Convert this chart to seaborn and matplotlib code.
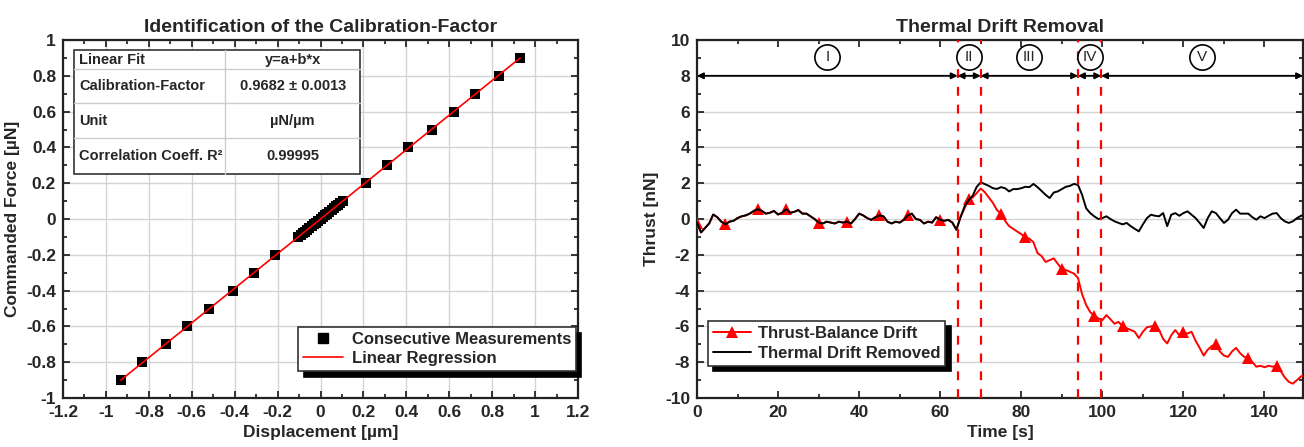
import numpy as np
import matplotlib
matplotlib.use('Agg')
import matplotlib.pyplot as plt
import seaborn as sns
from matplotlib.lines import Line2D
from matplotlib.patches import Rectangle
from matplotlib.ticker import MultipleLocator, FuncFormatter

# Calibration data (left)
displacement = [-0.93, -0.83, -0.72, -0.62, -0.52, -0.41, -0.31, -0.21,
                -0.103, -0.093, -0.083, -0.072, -0.062, -0.052, -0.041, -0.031, -0.021, -0.010,
                0.0, 0.010, 0.021, 0.031, 0.041, 0.052, 0.062, 0.072, 0.083, 0.093, 0.103,
                0.21, 0.31, 0.41, 0.52, 0.62, 0.72, 0.83, 0.93]
force = [-0.9, -0.8, -0.7, -0.6, -0.5, -0.4, -0.3, -0.2,
         -0.1, -0.09, -0.08, -0.07, -0.06, -0.05, -0.04, -0.03, -0.02, -0.01,
         0.0, 0.01, 0.02, 0.03, 0.04, 0.05, 0.06, 0.07, 0.08, 0.09, 0.1,
         0.2, 0.3, 0.4, 0.5, 0.6, 0.7, 0.8, 0.9]

table_rows = [("Linear Fit", "y=a+b*x"),
              ("Calibration-Factor", "0.9682 \u00b1 0.0013"),
              ("Unit", "\u00b5N/\u00b5m"),
              ("Correlation Coeff. R\u00b2", "0.99995")]

# Thrust data (right), sampled every second
time_s = list(range(0, 151))
drift_removed = [
    -0.2, -0.75, -0.5, -0.25, 0.25, 0.1, -0.15, -0.3, -0.15, -0.1,
    0.05, 0.15, 0.2, 0.3, 0.45, 0.55, 0.45, 0.3, 0.35, 0.45,
    0.25, 0.35, 0.55, 0.35, 0.4, 0.5, 0.3, 0.3, 0.15, 0.0,
    -0.2, -0.25, -0.15, -0.2, -0.25, -0.15, -0.2, -0.15, -0.25, 0.0,
    0.3, 0.2, 0.05, -0.05, 0.1, 0.2, 0.15, -0.15, -0.25, -0.15,
    -0.2, -0.05, 0.2, 0.3, 0.0, -0.05, -0.25, -0.15, -0.2, 0.1,
    -0.05, -0.1, -0.05, -0.2, -0.6, 0.1, 0.7, 1.05, 1.3, 1.8,
    2.05, 1.95, 1.85, 1.72, 1.68, 1.78, 1.72, 1.54, 1.67, 1.67,
    1.72, 1.8, 1.78, 1.96, 1.78, 1.57, 1.35, 1.17, 1.48, 1.54,
    1.67, 1.8, 1.85, 1.96, 1.9, 1.35, 0.6, 0.33, 0.15, 0.0,
    0.05, 0.15, 0.0, -0.13, -0.22, -0.3, -0.22, -0.4, -0.55, -0.69,
    -0.3, 0.05, 0.24, 0.18, 0.15, 0.33, -0.4, 0.24, 0.33, 0.18,
    0.33, 0.43, 0.24, 0.05, -0.22, -0.5, 0.05, 0.43, 0.33, 0.05,
    -0.22, -0.04, 0.33, 0.52, 0.3, 0.3, 0.3, 0.1, -0.04, 0.15,
    0.05, 0.18, 0.3, 0.33, 0.05, -0.13, -0.22, -0.13, 0.05, 0.18,
    0.25]
balance_drift = [
    -0.2, -0.75, -0.5, -0.25, 0.25, 0.1, -0.15, -0.3, -0.15, -0.1,
    0.05, 0.15, 0.2, 0.3, 0.45, 0.55, 0.45, 0.3, 0.35, 0.45,
    0.25, 0.35, 0.55, 0.35, 0.4, 0.5, 0.3, 0.3, 0.15, 0.0,
    -0.2, -0.25, -0.15, -0.2, -0.25, -0.15, -0.2, -0.15, -0.25, 0.0,
    0.3, 0.2, 0.05, -0.05, 0.1, 0.2, 0.15, -0.15, -0.25, -0.15,
    -0.2, -0.05, 0.2, 0.3, 0.0, -0.05, -0.25, -0.15, -0.2, 0.1,
    -0.05, -0.1, -0.05, -0.2, -0.6, 0.1, 0.6, 1.1, 1.2, 1.45,
    1.7, 1.5, 1.2, 0.9, 0.5, 0.3, -0.1, -0.4, -0.55, -0.7,
    -0.85, -1.0, -1.1, -1.3, -1.9, -2.07, -2.4, -2.3, -2.2, -2.5,
    -2.8, -2.85, -2.95, -3.05, -3.3, -4.2, -4.8, -5.2, -5.4, -5.55,
    -5.65, -5.37, -5.6, -5.85, -5.75, -6.0, -6.1, -6.2, -6.3, -6.65,
    -6.3, -6.05, -6.0, -5.95, -6.2, -6.7, -6.95, -6.5, -6.2, -6.5,
    -6.33, -6.4, -6.3, -6.8, -7.2, -7.63, -7.3, -7.1, -7.0, -7.4,
    -7.63, -7.7, -7.4, -7.2, -7.5, -7.7, -7.75, -8.0, -8.25, -8.2,
    -8.28, -8.2, -8.25, -8.2, -8.5, -8.85, -9.1, -9.2, -9.0, -8.8,
    -8.7]

phase_bounds = [0, 64.3, 70.0, 94.0, 99.7, 149.5]
phase_labels = ["I", "II", "III", "IV", "V"]


def num_fmt(v, pos):
    return f"{round(v, 6) + 0.0:g}"


def style_axes(ax):
    for s in ax.spines.values():
        s.set_linewidth(1.6)
        s.set_color('#222222')
    ax.tick_params(which='both', direction='in', top=True, right=True,
                   width=1.3, labelsize=12.5, pad=5)
    ax.tick_params(which='major', length=5)
    ax.tick_params(which='minor', length=3)
    ax.xaxis.set_major_formatter(FuncFormatter(num_fmt))
    ax.yaxis.set_major_formatter(FuncFormatter(num_fmt))
    for lab in ax.get_xticklabels() + ax.get_yticklabels():
        lab.set_fontweight('bold')


def main():
    sns.set_style('ticks')
    plt.rcParams['font.family'] = ['Liberation Sans', 'DejaVu Sans']
    plt.rcParams['font.weight'] = 'bold'
    plt.rcParams['axes.labelweight'] = 'bold'
    plt.rcParams['axes.titleweight'] = 'bold'
    plt.rcParams['axes.unicode_minus'] = False

    fig = plt.figure(figsize=(13.04, 4.47), dpi=100)
    ax1 = fig.add_axes([63 / 1304, 49 / 447, 515 / 1304, 358 / 447])
    ax2 = fig.add_axes([697 / 1304, 49 / 447, 606 / 1304, 358 / 447])

    # 1. Calibration plot
    sns.scatterplot(x=displacement, y=force, marker='s', s=42, color='black',
                    edgecolor='black', linewidth=0, ax=ax1, zorder=3, legend=False)
    slope, intercept = np.polyfit(displacement, force, 1)
    fit_x = np.array([min(displacement), max(displacement)])
    sns.lineplot(x=fit_x, y=intercept + slope * fit_x, color='red', lw=1.2, ax=ax1, zorder=4)

    ax1.set_xlim(-1.2, 1.2)
    ax1.set_ylim(-1, 1)
    ax1.xaxis.set_major_locator(MultipleLocator(0.2))
    ax1.xaxis.set_minor_locator(MultipleLocator(0.1))
    ax1.yaxis.set_major_locator(MultipleLocator(0.2))
    ax1.yaxis.set_minor_locator(MultipleLocator(0.1))
    ax1.grid(True, which='major', color='#d4d4d4', lw=1)
    ax1.set_axisbelow(True)
    style_axes(ax1)
    ax1.set_title('Identification of the Calibration-Factor', fontsize=14, pad=6)
    ax1.set_xlabel('Displacement [\u00b5m]', fontsize=12.5, labelpad=4)
    ax1.set_ylabel('Commanded Force [\u00b5N]', fontsize=12.5, labelpad=4)

    # table in the upper left
    tx0, tdiv, tx1 = 0.021, 0.315, 0.577
    ty = [0.972, 0.919, 0.824, 0.726, 0.626]
    ax1.add_patch(Rectangle((tx0, ty[-1]), tx1 - tx0, ty[0] - ty[-1], transform=ax1.transAxes,
                            fc='white', ec='#333333', lw=1.2, zorder=5))
    for y in ty[1:-1]:
        ax1.add_line(Line2D([tx0, tx1], [y, y], transform=ax1.transAxes,
                            color='#cccccc', lw=1, zorder=6))
    ax1.add_line(Line2D([tdiv, tdiv], [ty[-1], ty[0]], transform=ax1.transAxes,
                        color='#cccccc', lw=1, zorder=6))
    for i, (left, right) in enumerate(table_rows):
        yc = (ty[i] + ty[i + 1]) / 2
        ax1.text(tx0 + 0.01, yc, left, transform=ax1.transAxes, ha='left', va='center',
                 fontsize=10.5, fontweight='bold', zorder=7)
        ax1.text((tdiv + tx1) / 2, yc, right, transform=ax1.transAxes, ha='center',
                 va='center', fontsize=10.5, fontweight='bold', zorder=7)

    h1 = [Line2D([], [], ls='none', marker='s', ms=7, color='black'),
          Line2D([], [], color='red', lw=1.2)]
    leg1 = ax1.legend(h1, ['Consecutive Measurements', 'Linear Regression'],
                      loc='lower right', bbox_to_anchor=(0.996, 0.075), borderaxespad=0,
                      fancybox=False, framealpha=1, edgecolor='#333333',
                      shadow={'color': 'black', 'alpha': 1, 'ox': 4, 'oy': -4},
                      prop={'size': 12, 'weight': 'bold'}, handlelength=2.4,
                      handletextpad=0.5, borderpad=0.3, labelspacing=0.25)
    leg1.get_frame().set_linewidth(1.2)

    # 2. Thermal drift plot
    sns.lineplot(x=time_s, y=balance_drift, color='red', lw=1.4, marker='^', ms=8,
                 markeredgewidth=0,
                 markevery=[0, 7, 15, 22, 30, 37, 45, 52, 60, 67, 75, 81, 90, 98,
                            105, 113, 120, 128, 136, 143],
                 ax=ax2, zorder=3)
    sns.lineplot(x=time_s, y=drift_removed, color='black', lw=1.4, ax=ax2, zorder=4)

    for xb in phase_bounds[1:-1]:
        ax2.axvline(xb, color='red', lw=1.6, ls=(0, (4, 4)), zorder=5)
    for x0, x1 in zip(phase_bounds[:-1], phase_bounds[1:]):
        ax2.annotate('', xy=(x1, 8), xytext=(x0, 8),
                     arrowprops=dict(arrowstyle='<|-|>', color='black', lw=1.3,
                                     shrinkA=0, shrinkB=0, mutation_scale=9), zorder=6)
    centers = [(a + b) / 2 for a, b in zip(phase_bounds[:-1], phase_bounds[1:])]
    ax2.scatter(centers, [9.05] * len(centers), s=330, facecolors='white',
                edgecolors='black', linewidths=1.2, zorder=6)
    for xc, lab in zip(centers, phase_labels):
        ax2.text(xc, 9.05, lab, ha='center', va='center', fontsize=11,
                 fontweight='normal', zorder=7)

    ax2.set_xlim(0, 149.5)
    ax2.set_ylim(-10, 10)
    ax2.xaxis.set_major_locator(MultipleLocator(20))
    ax2.xaxis.set_minor_locator(MultipleLocator(10))
    ax2.yaxis.set_major_locator(MultipleLocator(2))
    ax2.yaxis.set_minor_locator(MultipleLocator(1))
    ax2.grid(True, axis='y', which='major', color='#d4d4d4', lw=1)
    ax2.set_axisbelow(True)
    style_axes(ax2)
    ax2.set_title('Thermal Drift Removal', fontsize=14, pad=6)
    ax2.set_xlabel('Time [s]', fontsize=12.5, labelpad=4)
    ax2.set_ylabel('Thrust [nN]', fontsize=12.5, labelpad=4)

    h2 = [Line2D([], [], color='red', lw=1.4, marker='^', ms=9, markeredgewidth=0),
          Line2D([], [], color='black', lw=1.4)]
    leg2 = ax2.legend(h2, ['Thrust-Balance Drift', 'Thermal Drift Removed'],
                      loc='lower left', bbox_to_anchor=(0.018, 0.09), borderaxespad=0,
                      fancybox=False, framealpha=1, edgecolor='#333333',
                      shadow={'color': 'black', 'alpha': 1, 'ox': 4, 'oy': -4},
                      prop={'size': 12, 'weight': 'bold'}, handlelength=2.3,
                      handletextpad=0.4, borderpad=0.3, labelspacing=0.3)
    leg2.get_frame().set_linewidth(1.2)

    fig.savefig('out.png', dpi=100)


if __name__ == '__main__':
    main()
